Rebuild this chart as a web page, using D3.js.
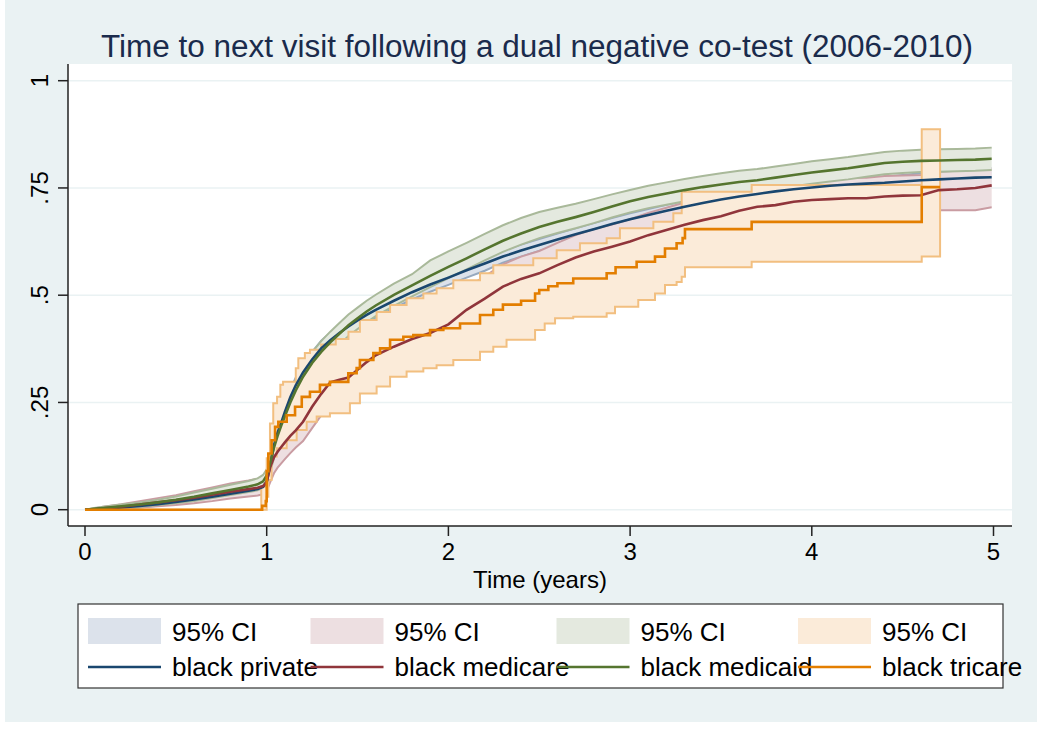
<!DOCTYPE html>
<html><head><meta charset="utf-8">
<script src="https://cdn.jsdelivr.net/npm/d3@7"></script>
<style>body{margin:0;background:#fff} text{font-family:"Liberation Sans",Arial,Helvetica,sans-serif}</style>
</head><body><svg id="c" width="1037" height="730"></svg>
<script>
// ---------- DATA ----------
const title = "Time to next visit following a dual negative co-test (2006-2010)";
const xTitle = "Time (years)";
const xTicks = [0, 1, 2, 3, 4, 5];
const xTickLabels = ["0", "1", "2", "3", "4", "5"];
const yTicks = [0, 0.25, 0.5, 0.75, 1];
const yTickLabels = ["0", ".25", ".5", ".75", "1"];
const seriesNames = ["black private", "black medicare", "black medicaid", "black tricare"];

// common time grid for the three large groups (years)
const tGrid = [0,.05,.1,.2,.3,.4,.5,.6,.7,.8,.9,.95,.98,1.0,1.02,1.04,1.06,1.08,1.1,1.13,1.16,1.2,1.25,1.3,1.35,1.4,1.45,1.5,1.55,1.6,1.7,1.8,1.9,2.0,2.1,2.2,2.3,2.4,2.5,2.6,2.7,2.8,2.9,3.0,3.1,3.2,3.3,3.4,3.5,3.6,3.7,3.8,3.9,4.0,4.1,4.2,4.3,4.4,4.5,4.6,4.7,4.8,4.9,4.99];

const privateV  = [0,.001,.002,.005,.009,.013,.018,.024,.030,.037,.044,.048,.053, .065,.105,.150,.180,.203,.228,.262,.290,.320,.350,.376,.395,.412,.427,.441,.454,.466, .487,.507,.525,.541,.558,.574,.590,.604,.617,.630, .642,.654,.666,.677,.687,.697,.706,.715,.723,.730, .736,.742,.747,.751,.755,.758,.760,.762,.765,.768, .770,.772,.774,.775];
const privateLo = [0,0,0,.003,.005,.009,.014,.018,.024,.031,.038,.042,.046, .057,.090,.135,.165,.188,.213,.244,.272,.302,.332,.358,.377,.394,.409,.423,.436,.448, .470,.490,.508,.524,.541,.557,.576,.590,.603,.616, .628,.640,.652,.663,.673,.683,.692,.701,.709,.716, .722,.728,.733,.737,.741,.744,.746,.748,.750,.752, .752,.753,.754,.754];
const privateHi = [0,.002,.004,.007,.013,.017,.022,.030,.036,.043,.050,.054,.060, .073,.120,.165,.195,.218,.243,.280,.308,.338,.368,.394,.413,.430,.445,.459,.472,.484, .504,.524,.542,.558,.575,.591,.604,.618,.631,.644, .656,.668,.680,.691,.701,.711,.720,.729,.737,.744, .750,.756,.761,.765,.769,.772,.774,.776,.780,.784, .788,.791,.794,.796];

const medicareV  = [0,.001,.003,.007,.012,.017,.022,.028,.035,.042,.048,.051,.055, .065,.100,.122,.135,.146,.157,.172,.185,.205,.240,.270,.297,.303,.308,.326,.344,.360, .380,.398,.412,.432,.466,.492,.520,.538,.551,.570, .588,.602,.613,.625,.640,.652,.664,.675,.684,.697, .706,.710,.718,.722,.724,.726,.726,.730,.732,.733, .745,.747,.750,.756];
const medicareLo = [0,0,0,.002,.005,.008,.011,.015,.020,.026,.031,.033,.036, .044,.065,.085,.098,.108,.118,.132,.145,.160,.190,.220,.245,.250,.255,.272,.290,.305, .324,.342,.356,.376,.410,.436,.464,.482,.495,.514, .532,.547,.558,.570,.585,.597,.609,.620,.630,.643, .652,.656,.664,.668,.670,.671,.671,.675,.677,.678, .698,.698,.698,.705];
const medicareHi = [0,.003,.007,.013,.020,.027,.034,.043,.052,.061,.068,.072,.077, .088,.125,.150,.165,.178,.190,.208,.222,.245,.285,.318,.345,.352,.358,.376,.394,.410, .432,.450,.465,.485,.518,.544,.572,.590,.603,.622, .640,.654,.665,.677,.692,.704,.716,.727,.736,.748, .757,.760,.766,.770,.772,.774,.774,.778,.779,.780, .788,.790,.792,.795];

const medicaidV  = [0,.002,.004,.008,.012,.017,.023,.030,.038,.046,.054,.059,.066, .080,.110,.145,.172,.196,.218,.250,.278,.310,.342,.368,.390,.410,.430,.446,.462,.476, .501,.523,.545,.566,.586,.607,.627,.644,.659,.671, .682,.694,.707,.719,.729,.737,.745,.752,.758,.764, .768,.774,.780,.786,.791,.796,.802,.808,.811,.813, .814,.815,.816,.818];
const medicaidLo = [0,0,.001,.004,.007,.011,.015,.020,.027,.034,.041,.045,.051, .066,.090,.120,.148,.172,.194,.225,.253,.285,.317,.343,.365,.385,.405,.421,.437,.451, .475,.497,.519,.540,.560,.581,.601,.618,.633,.645, .656,.668,.681,.693,.703,.711,.719,.726,.732,.738, .742,.748,.754,.760,.765,.770,.776,.782,.785,.787, .788,.789,.790,.792];
const medicaidHi = [0,.004,.007,.012,.017,.023,.031,.040,.049,.058,.067,.073,.081, .094,.130,.170,.196,.220,.242,.275,.303,.335,.367,.393,.415,.435,.455,.471,.487,.501, .527,.549,.581,.602,.622,.643,.663,.680,.694,.704, .713,.724,.735,.745,.755,.763,.771,.778,.784,.790, .794,.800,.806,.812,.817,.822,.828,.834,.837,.839, .840,.841,.842,.844];

// tricare: visible step function (time of each step, value after step)
const tricareT = [0,0.975,0.995,1.0,1.009,1.027,1.046,1.064,1.11,1.156,1.193,1.238,1.293,1.348,1.449,1.495,1.513,1.587,1.624,1.679,1.752,1.807,1.899,1.972,2.064,2.174,2.247,2.30,2.40,2.477,2.50,2.55,2.60,2.687,2.871,2.92,3.036,3.137,3.192,3.256,3.289,3.302,3.669,4.605,4.706];
const tricareV = [0,0.009,0.02,0.09,0.131,0.162,0.193,0.205,0.22,0.24,0.263,0.275,0.291,0.298,0.318,0.33,0.349,0.365,0.376,0.396,0.403,0.407,0.419,0.423,0.434,0.454,0.466,0.478,0.487,0.504,0.512,0.521,0.528,0.539,0.551,0.565,0.578,0.59,0.609,0.621,0.633,0.654,0.671,0.752,0.752];
const tricareHiT = [0,0.97,1.0,1.018,1.036,1.057,1.075,1.09,1.16,1.174,1.21,1.238,1.30,1.38,1.45,1.513,1.605,1.679,1.77,1.862,1.935,2.027,2.174,2.247,2.467,2.596,2.724,2.871,2.944,3.128,3.238,3.284,3.669,4.605,4.706];
const tricareHi  = [0,0.054,0.12,0.201,0.248,0.263,0.291,0.298,0.33,0.353,0.365,0.373,0.385,0.398,0.415,0.442,0.461,0.477,0.493,0.504,0.516,0.535,0.551,0.570,0.586,0.605,0.621,0.633,0.656,0.671,0.691,0.741,0.757,0.887,0.887];
const tricareLoT = [0,1.0,1.009,1.027,1.055,1.11,1.165,1.22,1.275,1.348,1.458,1.513,1.605,1.679,1.77,1.862,1.935,2.027,2.174,2.247,2.32,2.477,2.53,2.587,2.687,2.871,2.917,3.045,3.137,3.192,3.256,3.284,3.302,3.669,4.605,4.706];
const tricareLo  = [0,0.03,0.069,0.124,0.143,0.162,0.186,0.205,0.217,0.225,0.248,0.271,0.287,0.31,0.322,0.33,0.337,0.349,0.368,0.38,0.396,0.419,0.434,0.446,0.45,0.458,0.473,0.489,0.504,0.524,0.531,0.543,0.565,0.578,0.59,0.59];

// ---------- STYLE ----------
const lineColors = ["#1a476f", "#90353b", "#55752f", "#e37e00"];
const ciFill     = ["#dce2eb", "#eddfe1", "#e4e9df", "#fbebd9"];
const ciEdge     = ["#97a9be", "#c99ca2", "#a9b99a", "#f2bf80"];

const svg = d3.select("#c");
svg.append("rect").attr("x",0).attr("y",0).attr("width",1037).attr("height",730).attr("fill","#fff");
svg.append("rect").attr("x",5).attr("y",0).attr("width",1032).attr("height",722).attr("fill","#eaf2f3");

const plot = {l:68, t:64, r:1012, b:526};
svg.append("rect").attr("x",plot.l).attr("y",plot.t).attr("width",plot.r-plot.l).attr("height",plot.b-plot.t).attr("fill","#fff");

const x = d3.scaleLinear().domain([0,5]).range([85,993.5]);
const y = d3.scaleLinear().domain([0,1]).range([509.7,80.7]);

// gridlines
svg.append("g").selectAll("line").data(yTicks).join("line")
  .attr("x1",plot.l).attr("x2",plot.r).attr("y1",d=>y(d)).attr("y2",d=>y(d))
  .attr("stroke","#eaf2f3").attr("stroke-width",1.6);

// series assembly
const smooth = [
  {v:privateV, lo:privateLo, hi:privateHi},
  {v:medicareV, lo:medicareLo, hi:medicareHi},
  {v:medicaidV, lo:medicaidLo, hi:medicaidHi}
].map(s => tGrid.map((t,i)=>({t, v:s.v[i], lo:s.lo[i], hi:s.hi[i]})));

const stepAt = (ts, vs, t) => vs[Math.max(0, d3.bisectRight(ts, t) - 1)];
const triTimes = Array.from(new Set([...tricareHiT, ...tricareLoT])).sort((a,b)=>a-b);
const triBand = triTimes.map(t => ({t, lo: stepAt(tricareLoT, tricareLo, t), hi: stepAt(tricareHiT, tricareHi, t)}));
const triLine = tricareT.map((t,i)=>({t, v: tricareV[i]}));

const gBands = svg.append("g");
const gLines = svg.append("g");

smooth.forEach((data, k) => {
  const area = d3.area().x(d=>x(d.t)).y0(d=>y(d.lo)).y1(d=>y(d.hi)).curve(d3.curveLinear);
  gBands.append("path").attr("d", area(data)).attr("fill", ciFill[k]).attr("stroke","none");
  ["lo","hi"].forEach(key => {
    gBands.append("path").attr("d", d3.line().x(d=>x(d.t)).y(d=>y(d[key])).curve(d3.curveLinear)(data))
      .attr("fill","none").attr("stroke", ciEdge[k]).attr("stroke-width",2);
  });
});
{
  const area = d3.area().x(d=>x(d.t)).y0(d=>y(d.lo)).y1(d=>y(d.hi)).curve(d3.curveStepAfter);
  gBands.append("path").attr("d", area(triBand)).attr("fill", ciFill[3]).attr("stroke", ciEdge[3]).attr("stroke-width",2).attr("stroke-linejoin","miter");
}

smooth.forEach((data, k) => {
  gLines.append("path").attr("d", d3.line().x(d=>x(d.t)).y(d=>y(d.v)).curve(d3.curveLinear)(data))
    .attr("fill","none").attr("stroke", lineColors[k]).attr("stroke-width",2.6);
});
gLines.append("path").attr("d", d3.line().x(d=>x(d.t)).y(d=>y(d.v)).curve(d3.curveStepAfter)(triLine))
  .attr("fill","none").attr("stroke", lineColors[3]).attr("stroke-width",2.6);

// axes
const axisColor = "#222";
svg.append("line").attr("x1",plot.l).attr("x2",plot.l).attr("y1",plot.t).attr("y2",plot.b).attr("stroke",axisColor).attr("stroke-width",1.5);
svg.append("line").attr("x1",plot.l).attr("x2",plot.r).attr("y1",plot.b).attr("y2",plot.b).attr("stroke",axisColor).attr("stroke-width",1.5);

const xa = svg.append("g");
xTicks.forEach((t,i)=>{
  xa.append("line").attr("x1",x(t)).attr("x2",x(t)).attr("y1",plot.b).attr("y2",plot.b+10).attr("stroke",axisColor).attr("stroke-width",1.5);
  xa.append("text").attr("x",x(t)).attr("y",560).attr("text-anchor","middle").attr("font-size",24).attr("fill","#000").text(xTickLabels[i]);
});
const ya = svg.append("g");
yTicks.forEach((t,i)=>{
  ya.append("line").attr("x1",plot.l-10).attr("x2",plot.l).attr("y1",y(t)).attr("y2",y(t)).attr("stroke",axisColor).attr("stroke-width",1.5);
  ya.append("text").attr("transform",`translate(48,${y(t)}) rotate(-90)`).attr("text-anchor","middle").attr("font-size",24).attr("fill","#000").text(yTickLabels[i]);
});

svg.append("text").attr("x",540).attr("y",588).attr("text-anchor","middle").attr("font-size",24).attr("fill","#000").text(xTitle);
svg.append("text").attr("x",537).attr("y",57).attr("text-anchor","middle").attr("font-size",31).attr("fill","#1a2b4c")
  .attr("textLength",872).attr("lengthAdjust","spacingAndGlyphs").text(title);

// legend
const lg = svg.append("g");
lg.append("rect").attr("x",78).attr("y",604).attr("width",925).attr("height",84).attr("fill","#fff").attr("stroke","#333").attr("stroke-width",1.2);
const colX = [88, 310.5, 556.5, 798];
colX.forEach((cx,k)=>{
  lg.append("rect").attr("x",cx).attr("y",618).attr("width",73).attr("height",26).attr("fill",ciFill[k]);
  lg.append("text").attr("x",cx+84).attr("y",641).attr("font-size",26).attr("fill","#000").text("95% CI");
  lg.append("line").attr("x1",cx).attr("x2",cx+73).attr("y1",667).attr("y2",667).attr("stroke",lineColors[k]).attr("stroke-width",2.6);
  lg.append("text").attr("x",cx+84).attr("y",676).attr("font-size",26).attr("fill","#000").text(seriesNames[k]);
});
</script></body></html>
